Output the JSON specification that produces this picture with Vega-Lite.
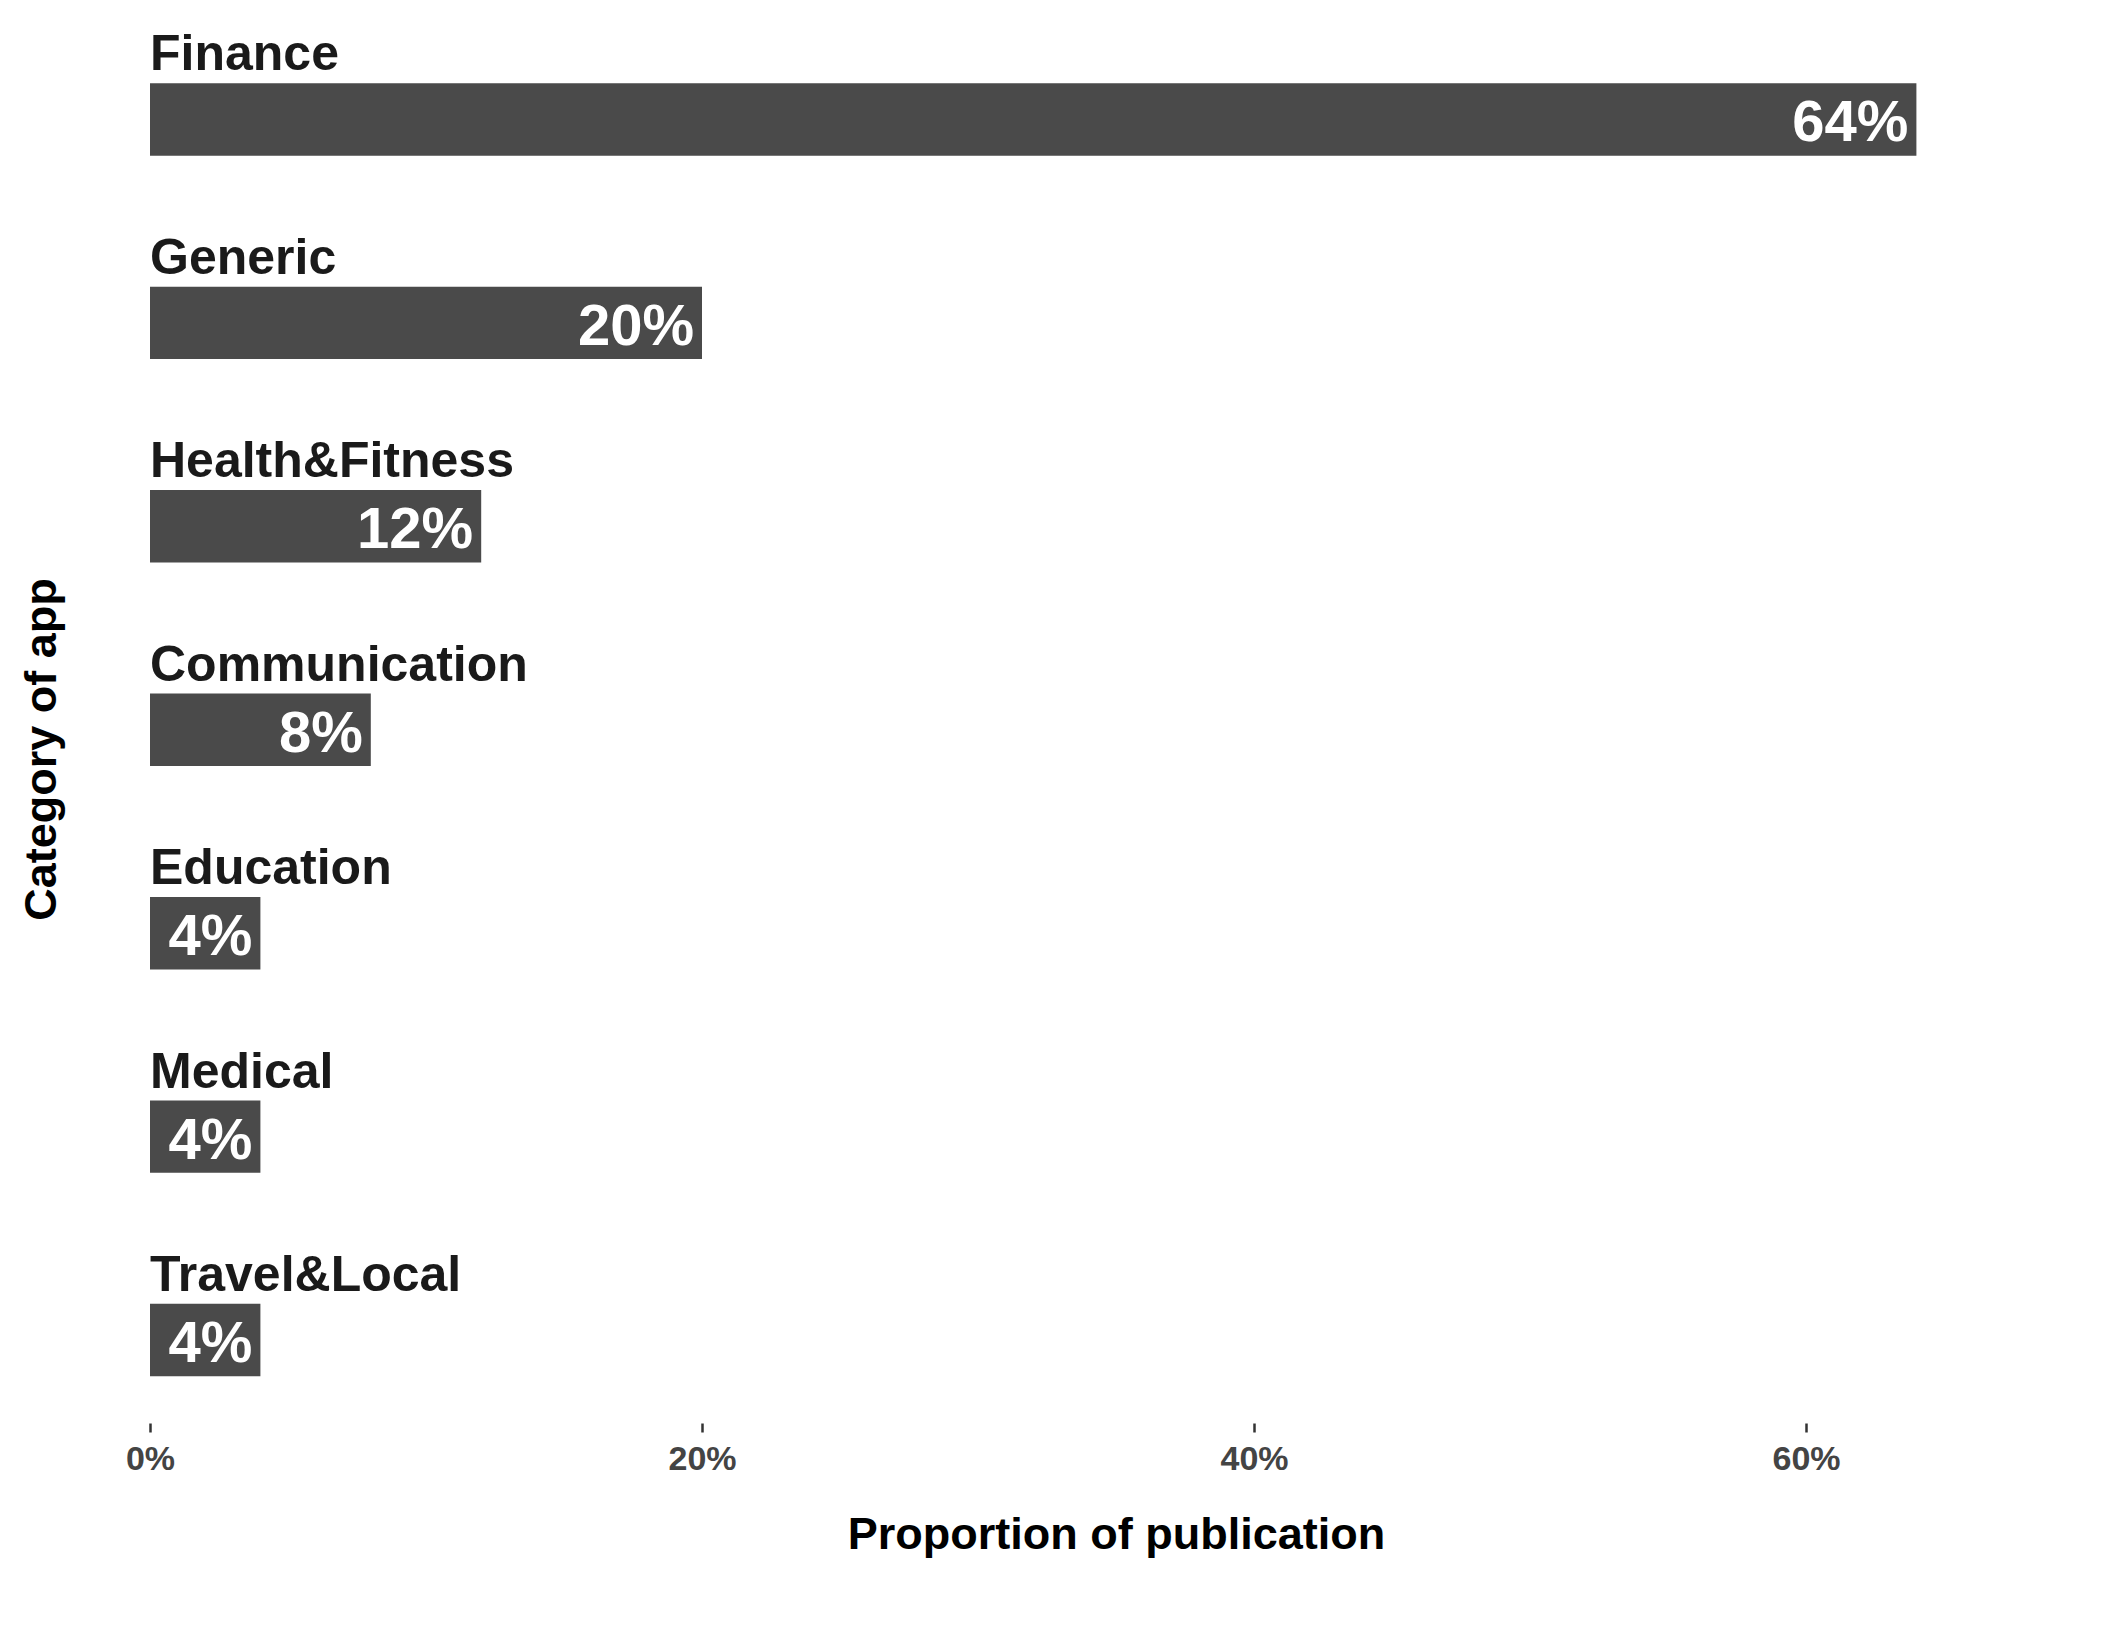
{
  "$schema": "https://vega.github.io/schema/vega-lite/v6.json",
  "width": 1932,
  "height": 1386.5,
  "autosize": "none",
  "padding": {"left": 150, "top": 36.5, "right": 23, "bottom": 205},
  "config": {"view": {"stroke": null}, "font": "Liberation Sans", "background": "white"},
  "data": {
    "values": [
      {"category": "Finance", "pct": 0.64},
      {"category": "Generic", "pct": 0.20},
      {"category": "Health&Fitness", "pct": 0.12},
      {"category": "Communication", "pct": 0.08},
      {"category": "Education", "pct": 0.04},
      {"category": "Medical", "pct": 0.04},
      {"category": "Travel&Local", "pct": 0.04}
    ]
  },
  "encoding": {
    "y": {
      "field": "category",
      "type": "nominal",
      "sort": null,
      "scale": {"paddingInner": 0.644, "paddingOuter": 0.23},
      "axis": {
        "title": "Category of app",
        "labels": false,
        "ticks": false,
        "domain": false,
        "titleFontSize": 45,
        "titleFontWeight": "bold",
        "titleColor": "#000000",
        "titleAngle": 270,
        "titleAlign": "center",
        "titleBaseline": "alphabetic",
        "titleX": -95,
        "titleY": 712.5
      }
    }
  },
  "layer": [
    {
      "mark": {"type": "bar", "color": "#4a4a4a"},
      "encoding": {
        "x": {
          "field": "pct",
          "type": "quantitative",
          "scale": {"domain": [0, 0.7], "nice": false},
          "axis": {
            "values": [0, 0.2, 0.4, 0.6],
            "format": ".0%",
            "grid": false,
            "domain": false,
            "labelFlush": false,
            "tickSize": 9,
            "tickWidth": 2.5,
            "tickColor": "#333333",
            "labelFontSize": 34,
            "labelFontWeight": "bold",
            "labelColor": "#444444",
            "labelPadding": 10,
            "title": "Proportion of publication",
            "titleFontSize": 45,
            "titleFontWeight": "bold",
            "titleColor": "#000000",
            "titleAlign": "center",
            "titleBaseline": "alphabetic",
            "titleX": 966,
            "titleY": 125
          }
        }
      }
    },
    {
      "mark": {"type": "text", "align": "right", "baseline": "alphabetic", "dx": -8, "dy": 22, "fontSize": 58, "fontWeight": "bold", "color": "#ffffff"},
      "encoding": {
        "x": {"field": "pct", "type": "quantitative"},
        "text": {"field": "pct", "type": "quantitative", "format": ".0%"}
      }
    },
    {
      "mark": {"type": "text", "align": "left", "baseline": "alphabetic", "dy": -49, "fontSize": 50, "fontWeight": "bold", "color": "#1a1a1a"},
      "encoding": {
        "x": {"datum": 0},
        "text": {"field": "category", "type": "nominal"}
      }
    }
  ]
}
